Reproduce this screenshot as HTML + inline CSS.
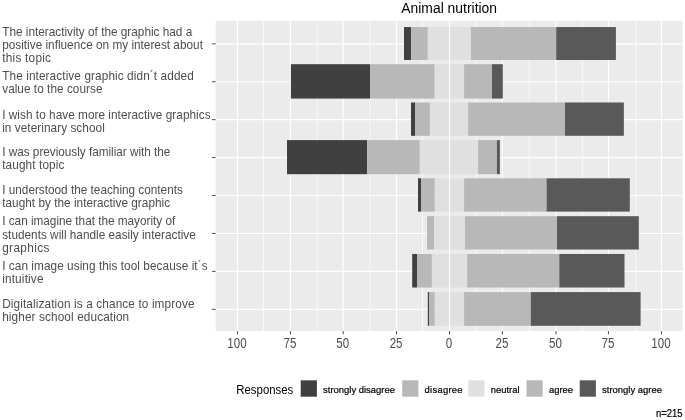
<!DOCTYPE html><html><head><meta charset="utf-8"><title>Animal nutrition</title><style>html,body{margin:0;padding:0;background:#fff;}svg{display:block;filter:grayscale(1);}text{font-family:"Liberation Sans",sans-serif;}</style></head><body>
<svg width="685" height="420" viewBox="0 0 685 420">
<rect x="0" y="0" width="685" height="420" fill="#fff"/>
<rect x="215.6" y="20.7" width="467.1" height="310.3" fill="#EBEBEB"/>
<line x1="263.4" x2="263.4" y1="20.7" y2="331" stroke="#FFFFFF" stroke-width="0.7"/>
<line x1="317.15" x2="317.15" y1="20.7" y2="331" stroke="#FFFFFF" stroke-width="0.7"/>
<line x1="369.78" x2="369.78" y1="20.7" y2="331" stroke="#FFFFFF" stroke-width="0.7"/>
<line x1="422.5" x2="422.5" y1="20.7" y2="331" stroke="#FFFFFF" stroke-width="0.7"/>
<line x1="476.4" x2="476.4" y1="20.7" y2="331" stroke="#FFFFFF" stroke-width="0.7"/>
<line x1="529.36" x2="529.36" y1="20.7" y2="331" stroke="#FFFFFF" stroke-width="0.7"/>
<line x1="582.6" x2="582.6" y1="20.7" y2="331" stroke="#FFFFFF" stroke-width="0.7"/>
<line x1="635.8" x2="635.8" y1="20.7" y2="331" stroke="#FFFFFF" stroke-width="0.7"/>
<line x1="215.6" x2="682.7" y1="43.8" y2="43.8" stroke="#FFFFFF" stroke-width="1.15"/>
<line x1="215.6" x2="682.7" y1="81.73" y2="81.73" stroke="#FFFFFF" stroke-width="1.15"/>
<line x1="215.6" x2="682.7" y1="119.66" y2="119.66" stroke="#FFFFFF" stroke-width="1.15"/>
<line x1="215.6" x2="682.7" y1="157.59" y2="157.59" stroke="#FFFFFF" stroke-width="1.15"/>
<line x1="215.6" x2="682.7" y1="195.52" y2="195.52" stroke="#FFFFFF" stroke-width="1.15"/>
<line x1="215.6" x2="682.7" y1="233.45" y2="233.45" stroke="#FFFFFF" stroke-width="1.15"/>
<line x1="215.6" x2="682.7" y1="271.38" y2="271.38" stroke="#FFFFFF" stroke-width="1.15"/>
<line x1="215.6" x2="682.7" y1="309.31" y2="309.31" stroke="#FFFFFF" stroke-width="1.15"/>
<line x1="237.44" x2="237.44" y1="20.7" y2="331" stroke="#FFFFFF" stroke-width="1.15"/>
<line x1="290.45" x2="290.45" y1="20.7" y2="331" stroke="#FFFFFF" stroke-width="1.15"/>
<line x1="343.2" x2="343.2" y1="20.7" y2="331" stroke="#FFFFFF" stroke-width="1.15"/>
<line x1="396.57" x2="396.57" y1="20.7" y2="331" stroke="#FFFFFF" stroke-width="1.15"/>
<line x1="449.5" x2="449.5" y1="20.7" y2="331" stroke="#FFFFFF" stroke-width="1.15"/>
<line x1="502.4" x2="502.4" y1="20.7" y2="331" stroke="#FFFFFF" stroke-width="1.15"/>
<line x1="556" x2="556" y1="20.7" y2="331" stroke="#FFFFFF" stroke-width="1.15"/>
<line x1="608.45" x2="608.45" y1="20.7" y2="331" stroke="#FFFFFF" stroke-width="1.15"/>
<line x1="661.44" x2="661.44" y1="20.7" y2="331" stroke="#FFFFFF" stroke-width="1.15"/>
<rect x="404" y="27.05" width="7.2" height="32.95" fill="#404040"/>
<rect x="411.2" y="27.05" width="16.6" height="32.95" fill="#B8B8B8"/>
<rect x="427.8" y="27.05" width="43.1" height="32.95" fill="#E0E0E0"/>
<rect x="470.9" y="27.05" width="85.3" height="32.95" fill="#B8B8B8"/>
<rect x="556.2" y="27.05" width="59.7" height="32.95" fill="#595959"/>
<rect x="290.9" y="64.2" width="79.15" height="34.37" fill="#404040"/>
<rect x="370.05" y="64.2" width="64.65" height="34.37" fill="#B8B8B8"/>
<rect x="434.7" y="64.2" width="29.4" height="34.37" fill="#E0E0E0"/>
<rect x="464.1" y="64.2" width="27.9" height="34.37" fill="#B8B8B8"/>
<rect x="492" y="64.2" width="10.8" height="34.37" fill="#595959"/>
<rect x="411" y="102.48" width="4" height="33.32" fill="#404040"/>
<rect x="415" y="102.48" width="14.9" height="33.32" fill="#B8B8B8"/>
<rect x="429.9" y="102.48" width="38.2" height="33.32" fill="#E0E0E0"/>
<rect x="468.1" y="102.48" width="96.9" height="33.32" fill="#B8B8B8"/>
<rect x="565" y="102.48" width="58.85" height="33.32" fill="#595959"/>
<rect x="287" y="140.1" width="80.1" height="34.09" fill="#404040"/>
<rect x="367.1" y="140.1" width="52.7" height="34.09" fill="#B8B8B8"/>
<rect x="419.8" y="140.1" width="58.3" height="34.09" fill="#E0E0E0"/>
<rect x="478.1" y="140.1" width="18.8" height="34.09" fill="#B8B8B8"/>
<rect x="496.9" y="140.1" width="3" height="34.09" fill="#595959"/>
<rect x="418" y="178.29" width="3" height="33.33" fill="#404040"/>
<rect x="421" y="178.29" width="13.8" height="33.33" fill="#B8B8B8"/>
<rect x="434.8" y="178.29" width="29.3" height="33.33" fill="#E0E0E0"/>
<rect x="464.1" y="178.29" width="82.5" height="33.33" fill="#B8B8B8"/>
<rect x="546.6" y="178.29" width="83.2" height="33.33" fill="#595959"/>
<rect x="427" y="216.19" width="7" height="33.33" fill="#B8B8B8"/>
<rect x="434" y="216.19" width="31" height="33.33" fill="#E0E0E0"/>
<rect x="465" y="216.19" width="92" height="33.33" fill="#B8B8B8"/>
<rect x="557" y="216.19" width="81.8" height="33.33" fill="#595959"/>
<rect x="412.2" y="253.98" width="4.8" height="33.54" fill="#404040"/>
<rect x="417" y="253.98" width="14.9" height="33.54" fill="#B8B8B8"/>
<rect x="431.9" y="253.98" width="35.2" height="33.54" fill="#E0E0E0"/>
<rect x="467.1" y="253.98" width="92.2" height="33.54" fill="#B8B8B8"/>
<rect x="559.3" y="253.98" width="65.2" height="33.54" fill="#595959"/>
<rect x="427.8" y="292.1" width="1.2" height="33.71" fill="#404040"/>
<rect x="429" y="292.1" width="5.8" height="33.71" fill="#B8B8B8"/>
<rect x="434.8" y="292.1" width="29.3" height="33.71" fill="#E0E0E0"/>
<rect x="464.1" y="292.1" width="66.7" height="33.71" fill="#B8B8B8"/>
<rect x="530.8" y="292.1" width="109.8" height="33.71" fill="#595959"/>
<line x1="449.5" x2="449.5" y1="20.7" y2="331" stroke="#fff" stroke-width="1.0"/>
<line x1="212" x2="215.6" y1="43.8" y2="43.8" stroke="#3a3a3a" stroke-width="0.9"/>
<text transform="translate(2.2 35.75) scale(1 1.120)" x="0" y="0" font-size="11.8" fill="#4D4D4D" textLength="190.06" lengthAdjust="spacing">The interactivity of the graphic had a</text>
<text transform="translate(2.2 48.85) scale(1 1.120)" x="0" y="0" font-size="11.8" fill="#4D4D4D" textLength="200.72" lengthAdjust="spacing">positive influence on my interest about</text>
<text transform="translate(2.2 61.95) scale(1 1.120)" x="0" y="0" font-size="11.8" fill="#4D4D4D" textLength="48.78" lengthAdjust="spacing">this topic</text>
<line x1="212" x2="215.6" y1="81.73" y2="81.73" stroke="#3a3a3a" stroke-width="0.9"/>
<text transform="translate(2.2 79.83) scale(1 1.120)" x="0" y="0" font-size="11.8" fill="#4D4D4D" textLength="191.58" lengthAdjust="spacing">The interactive graphic didn´t added</text>
<text transform="translate(2.2 92.93) scale(1 1.120)" x="0" y="0" font-size="11.8" fill="#4D4D4D" textLength="100.27" lengthAdjust="spacing">value to the course</text>
<line x1="212" x2="215.6" y1="119.66" y2="119.66" stroke="#3a3a3a" stroke-width="0.9"/>
<text transform="translate(2.2 118.61) scale(1 1.120)" x="0" y="0" font-size="11.8" fill="#4D4D4D" textLength="208.35" lengthAdjust="spacing">I wish to have more interactive graphics</text>
<text transform="translate(2.2 131.71) scale(1 1.120)" x="0" y="0" font-size="11.8" fill="#4D4D4D" textLength="102.58" lengthAdjust="spacing">in veterinary school</text>
<line x1="212" x2="215.6" y1="157.59" y2="157.59" stroke="#3a3a3a" stroke-width="0.9"/>
<text transform="translate(2.2 155.89) scale(1 1.120)" x="0" y="0" font-size="11.8" fill="#4D4D4D" textLength="168.24" lengthAdjust="spacing">I was previously familiar with the</text>
<text transform="translate(2.2 168.99) scale(1 1.120)" x="0" y="0" font-size="11.8" fill="#4D4D4D" textLength="62.16" lengthAdjust="spacing">taught topic</text>
<line x1="212" x2="215.6" y1="195.52" y2="195.52" stroke="#3a3a3a" stroke-width="0.9"/>
<text transform="translate(2.2 194.12) scale(1 1.120)" x="0" y="0" font-size="11.8" fill="#4D4D4D" textLength="180.69" lengthAdjust="spacing">I understood the teaching contents</text>
<text transform="translate(2.2 207.22) scale(1 1.120)" x="0" y="0" font-size="11.8" fill="#4D4D4D" textLength="167.9" lengthAdjust="spacing">taught by the interactive graphic</text>
<line x1="212" x2="215.6" y1="233.45" y2="233.45" stroke="#3a3a3a" stroke-width="0.9"/>
<text transform="translate(2.2 225.4) scale(1 1.120)" x="0" y="0" font-size="11.8" fill="#4D4D4D" textLength="173.05" lengthAdjust="spacing">I can imagine that the mayority of</text>
<text transform="translate(2.2 238.5) scale(1 1.120)" x="0" y="0" font-size="11.8" fill="#4D4D4D" textLength="193.6" lengthAdjust="spacing">students will handle easily interactive</text>
<text transform="translate(2.2 251.6) scale(1 1.120)" x="0" y="0" font-size="11.8" fill="#4D4D4D" textLength="47.12" lengthAdjust="spacing">graphics</text>
<line x1="212" x2="215.6" y1="271.38" y2="271.38" stroke="#3a3a3a" stroke-width="0.9"/>
<text transform="translate(2.2 269.58) scale(1 1.120)" x="0" y="0" font-size="11.8" fill="#4D4D4D" textLength="205.34" lengthAdjust="spacing">I can image using this tool because it´s</text>
<text transform="translate(2.2 282.68) scale(1 1.120)" x="0" y="0" font-size="11.8" fill="#4D4D4D" textLength="41.27" lengthAdjust="spacing">intuitive</text>
<line x1="212" x2="215.6" y1="309.31" y2="309.31" stroke="#3a3a3a" stroke-width="0.9"/>
<text transform="translate(2.2 307.91) scale(1 1.120)" x="0" y="0" font-size="11.8" fill="#4D4D4D" textLength="192.35" lengthAdjust="spacing">Digitalization is a chance to improve</text>
<text transform="translate(2.2 321.01) scale(1 1.120)" x="0" y="0" font-size="11.8" fill="#4D4D4D" textLength="126.99" lengthAdjust="spacing">higher school education</text>
<line x1="237.44" x2="237.44" y1="331" y2="334.4" stroke="#3a3a3a" stroke-width="0.9"/>
<text transform="translate(236.94 347.55) scale(1 1.220)" x="0" y="0" font-size="11.6" fill="#4D4D4D" text-anchor="middle">100</text>
<line x1="290.45" x2="290.45" y1="331" y2="334.4" stroke="#3a3a3a" stroke-width="0.9"/>
<text transform="translate(289.95 347.55) scale(1 1.220)" x="0" y="0" font-size="11.6" fill="#4D4D4D" text-anchor="middle">75</text>
<line x1="343.2" x2="343.2" y1="331" y2="334.4" stroke="#3a3a3a" stroke-width="0.9"/>
<text transform="translate(342.7 347.55) scale(1 1.220)" x="0" y="0" font-size="11.6" fill="#4D4D4D" text-anchor="middle">50</text>
<line x1="396.57" x2="396.57" y1="331" y2="334.4" stroke="#3a3a3a" stroke-width="0.9"/>
<text transform="translate(396.07 347.55) scale(1 1.220)" x="0" y="0" font-size="11.6" fill="#4D4D4D" text-anchor="middle">25</text>
<line x1="449.5" x2="449.5" y1="331" y2="334.4" stroke="#3a3a3a" stroke-width="0.9"/>
<text transform="translate(449 347.55) scale(1 1.220)" x="0" y="0" font-size="11.6" fill="#4D4D4D" text-anchor="middle">0</text>
<line x1="502.4" x2="502.4" y1="331" y2="334.4" stroke="#3a3a3a" stroke-width="0.9"/>
<text transform="translate(501.9 347.55) scale(1 1.220)" x="0" y="0" font-size="11.6" fill="#4D4D4D" text-anchor="middle">25</text>
<line x1="556" x2="556" y1="331" y2="334.4" stroke="#3a3a3a" stroke-width="0.9"/>
<text transform="translate(555.5 347.55) scale(1 1.220)" x="0" y="0" font-size="11.6" fill="#4D4D4D" text-anchor="middle">50</text>
<line x1="608.45" x2="608.45" y1="331" y2="334.4" stroke="#3a3a3a" stroke-width="0.9"/>
<text transform="translate(607.95 347.55) scale(1 1.220)" x="0" y="0" font-size="11.6" fill="#4D4D4D" text-anchor="middle">75</text>
<line x1="661.44" x2="661.44" y1="331" y2="334.4" stroke="#3a3a3a" stroke-width="0.9"/>
<text transform="translate(660.94 347.55) scale(1 1.220)" x="0" y="0" font-size="11.6" fill="#4D4D4D" text-anchor="middle">100</text>
<text transform="translate(449.15 13.1) scale(1 1.100)" x="0" y="0" font-size="13.9" fill="#000" text-anchor="middle">Animal nutrition</text>
<text transform="translate(236.3 394) scale(1 1.120)" x="0" y="0" font-size="11.4" fill="#000">Responses</text>
<rect x="300.7" y="380.3" width="16.2" height="16.4" fill="#404040"/>
<text transform="translate(323.1 393.3) scale(1 1.050)" x="0" y="0" font-size="9.45" fill="#000" stroke="#000" stroke-width="0.2">strongly disagree</text>
<rect x="402.2" y="380.3" width="16.2" height="16.4" fill="#B8B8B8"/>
<text transform="translate(424.6 393.3) scale(1 1.050)" x="0" y="0" font-size="9.45" fill="#000" stroke="#000" stroke-width="0.2" textLength="37.99" lengthAdjust="spacing">disagree</text>
<rect x="468.3" y="380.3" width="16.2" height="16.4" fill="#E0E0E0"/>
<text transform="translate(490.7 393.3) scale(1 1.050)" x="0" y="0" font-size="9.45" fill="#000" stroke="#000" stroke-width="0.2">neutral</text>
<rect x="526.5" y="380.3" width="16.2" height="16.4" fill="#B8B8B8"/>
<text transform="translate(548.9 393.3) scale(1 1.050)" x="0" y="0" font-size="9.45" fill="#000" stroke="#000" stroke-width="0.2">agree</text>
<rect x="579.7" y="380.3" width="16.2" height="16.4" fill="#595959"/>
<text transform="translate(602.1 393.3) scale(1 1.050)" x="0" y="0" font-size="9.45" fill="#000" stroke="#000" stroke-width="0.2">strongly agree</text>
<text transform="translate(682.6 417.4) scale(1 1.100)" x="0" y="0" font-size="9.45" fill="#000" text-anchor="end" stroke="#000" stroke-width="0.2">n=215</text>
</svg></body></html>
